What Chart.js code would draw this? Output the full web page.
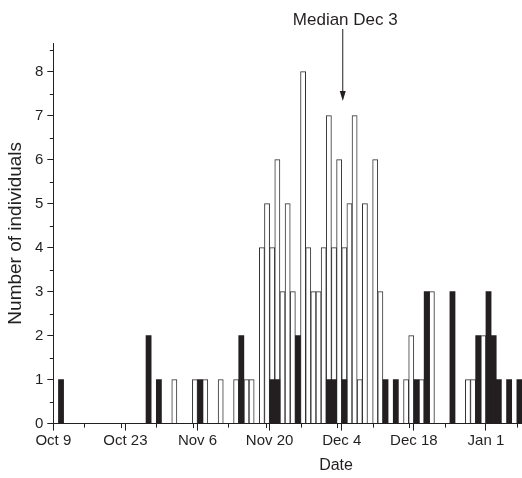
<!DOCTYPE html>
<html><head><meta charset="utf-8">
<script src="https://cdn.jsdelivr.net/npm/chart.js@4/dist/chart.umd.min.js"></script>
<style>html,body{margin:0;padding:0;background:#fff;}#wrap{width:522px;height:478px;position:relative;}</style>
</head><body><div id="wrap"><canvas id="c"></canvas></div>
<script>
// Days counted from Oct 9 (day 0)
const dayOffsets = Array.from({length: 91}, (_, i) => i);
// Open (white) bars per day
const openCounts = [
  0,0,0,0,0,0,0,0,0,0,
  0,0,0,0,0,0,0,0,0,0,
  0,0,0,1,0,0,0,1,0,1,
  0,0,1,0,0,1,0,1,1,0,
  4,5,4,6,3,5,3,0,8,4,
  3,3,4,7,4,6,4,5,7,1,
  5,0,6,3,0,0,0,0,1,2,
  0,1,0,3,0,0,0,0,0,0,
  1,1,0,2,0,0,0,0,0,0,0
];
// Solid (black) bars per day
const solidCounts = [
  0,1,0,0,0,0,0,0,0,0,
  0,0,0,0,0,0,0,0,2,0,
  1,0,0,0,0,0,0,0,1,0,
  0,0,0,0,0,0,2,0,0,0,
  0,0,1,1,0,0,0,2,0,0,
  0,0,0,1,1,0,1,0,0,0,
  0,0,0,0,1,0,1,0,0,0,
  1,0,3,0,0,0,0,3,0,0,
  0,0,2,0,3,2,1,0,1,0,1
];
const xTickDays = [0, 14, 28, 42, 56, 70, 84];
const xTickLabels = ['Oct 9', 'Oct 23', 'Nov 6', 'Nov 20', 'Dec 4', 'Dec 18', 'Jan 1'];
const xMinorDays = [6, 20, 34, 48, 62, 76, 90];
const xExtraDays = [13.2, 27.1, 41.2, 55.1, 69];
const yTickValues = [0, 1, 2, 3, 4, 5, 6, 7, 8];
const yMinorValues = [0.5, 1.5, 2.5, 3.5, 4.5, 5.5, 6.5, 7.5, 8.5];
const medianText = 'Median Dec 3';
const medianDay = 56.2;
const xTitle = 'Date';
const yTitle = 'Number of individuals';

const FONT = "'Liberation Sans', Arial, sans-serif";
const INK = '#231f20';

const extras = {
  id: 'extras',
  afterDraw(chart) {
    const ctx = chart.ctx, x = chart.scales.x, y = chart.scales.y;
    const a = chart.chartArea;
    ctx.save();
    ctx.strokeStyle = INK; ctx.lineWidth = 1;
    ctx.beginPath();
    xMinorDays.forEach(d => { const px = Math.round(x.getPixelForValue(d)) + 0.5; ctx.moveTo(px, a.bottom); ctx.lineTo(px, a.bottom + 4); });
    xExtraDays.forEach(d => { const px = Math.round(x.getPixelForValue(d)) + 0.5; ctx.moveTo(px, a.bottom); ctx.lineTo(px, a.bottom + 4.5); });
    yMinorValues.forEach(v => { const py = Math.round(y.getPixelForValue(v)) + 0.5; ctx.moveTo(a.left, py); ctx.lineTo(a.left - 3.5, py); });
    ctx.stroke();
    // x-axis title (placed off-centre as in the original)
    ctx.fillStyle = INK;
    ctx.font = '16px ' + FONT;
    ctx.textAlign = 'center'; ctx.textBaseline = 'middle';
    ctx.fillText(xTitle, x.getPixelForValue(54.9), 466);
    // median annotation
    const mx = x.getPixelForValue(medianDay);
    ctx.font = '17px ' + FONT;
    ctx.textBaseline = 'alphabetic';
    ctx.fillText(medianText, mx + 2.5, 25);
    ctx.beginPath();
    ctx.moveTo(mx, 29); ctx.lineTo(mx, 93); ctx.stroke();
    ctx.beginPath();
    ctx.moveTo(mx, 101); ctx.lineTo(mx - 3, 91); ctx.lineTo(mx + 3, 91); ctx.closePath(); ctx.fill();
    ctx.restore();
  }
};

new Chart(document.getElementById('c'), {
  type: 'bar',
  data: {
    datasets: [
      {
        label: 'solid',
        data: dayOffsets.map((d, i) => ({x: d + 0.5, y: solidCounts[i] || null})),
        backgroundColor: INK, borderColor: INK, borderWidth: 0,
        grouped: false, barPercentage: 1, categoryPercentage: 1
      },
      {
        label: 'open',
        data: dayOffsets.map((d, i) => ({x: d + 0.5, y: openCounts[i] || null})),
        backgroundColor: '#ffffff', borderColor: '#333', borderWidth: {top: 1, left: 1, right: 1, bottom: 0},
        borderSkipped: false,
        grouped: false, barPercentage: 1, categoryPercentage: 1
      }
    ]
  },
  options: {
    responsive: true, maintainAspectRatio: false, animation: false,
    layout: {padding: {top: 43, right: 0, left: 0, bottom: 0}},
    plugins: {legend: {display: false}, tooltip: {enabled: false}},
    scales: {
      x: {
        type: 'linear', min: 0, max: 91, offset: false,
        afterBuildTicks: s => { s.ticks = xTickDays.map(v => ({value: v})); },
        afterFit: s => { s.height = 54.4; },
        ticks: {callback: (v, i) => xTickLabels[i], autoSkip: false, maxRotation: 0, font: {size: 15, family: FONT}, color: INK, padding: 1},
        grid: {offset: false, drawOnChartArea: false, drawTicks: true, tickLength: 7, color: INK},
        border: {display: true, color: INK, width: 1},
        title: {display: false}
      },
      y: {
        type: 'linear', min: 0, max: 8.65,
        afterBuildTicks: s => { s.ticks = yTickValues.map(v => ({value: v})); },
        afterFit: s => { s.width = 53.3; },
        ticks: {font: {size: 15, family: FONT}, color: INK, padding: 4},
        grid: {drawOnChartArea: false, drawTicks: true, tickLength: 6, color: INK},
        border: {display: true, color: INK, width: 1},
        title: {display: true, text: yTitle, font: {size: 19, family: FONT}, color: INK, padding: {top: 4, bottom: 0}}
      }
    }
  },
  plugins: [extras]
});
</script></body></html>
